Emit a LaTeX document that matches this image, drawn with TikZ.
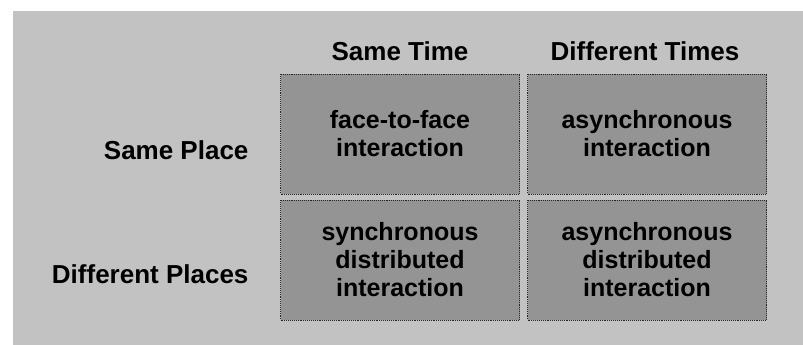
\documentclass[tikz,border=0pt]{standalone}
\usepackage{fontspec}
\setmainfont{Liberation Sans}
\usepackage{xcolor}

\begin{document}
\begin{tikzpicture}[x=1pt,y=-1pt]
\tikzset{cell/.style = {shape=rectangle,draw=black!85,densely dotted,line width=0.9pt,
		fill=black!42,minimum width=239pt,minimum height=120pt,
		align=center,font=\bfseries\fontsize{25}{28}\selectfont}}
\tikzset{heading/.style = {font=\bfseries\fontsize{26}{30}\selectfont}}
% page and backdrop
\useasboundingbox (0,0) rectangle (803,345);
\fill[black!24] (13,11) rectangle (803,345);
% column headings
\node[heading,anchor=base] (same time) at (400,61) {Same Time};
\node[heading,anchor=base] (diff time) at (645,61) {Different Times};
% row headings
\node[heading,anchor=base east] (same place) at (252,159) {Same Place};
\node[heading,anchor=base east] (diff place) at (252,283) {Different Places};
% cells
\node[cell] (a) at (400,134) {face-to-face\\interaction};
\node[cell] (b) at (647,134) {asynchronous\\interaction};
\node[cell] (c) at (400,260) {synchronous\\distributed\\interaction};
\node[cell] (d) at (647,260) {asynchronous\\distributed\\interaction};
\end{tikzpicture}
\end{document}
